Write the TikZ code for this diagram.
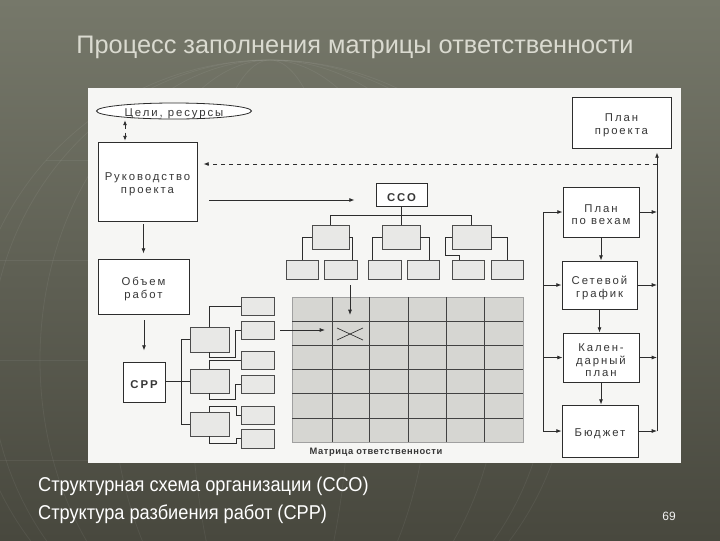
\documentclass[tikz,border=0pt]{standalone}
\usepackage{fontspec}
\setmainfont{Liberation Sans}
\newfontfamily\dfont[LetterSpace=17]{Liberation Sans}
\newfontfamily\lfont[LetterSpace=6]{Liberation Sans}
\usetikzlibrary{shapes.geometric,arrows.meta,fit,calc}
\newcommand\pxu[1]{#1*0.75pt}
\definecolor{bgtop}{RGB}{118,120,106}
\definecolor{bgbot}{RGB}{72,72,62}
\definecolor{lnc}{RGB}{45,45,45}
\definecolor{txc}{RGB}{55,55,55}
\definecolor{boxg}{RGB}{232,232,230}
\definecolor{matg}{RGB}{214,214,210}
\definecolor{titc}{RGB}{218,218,208}
\definecolor{panel}{RGB}{246,246,244}
\tikzset{
  bx/.style={draw=lnc, line width=0.6pt, fill=white, inner sep=0pt},
  txt/.style={inner sep=0pt, text=txc, align=center, yshift=-2pt, font={\dfont\fontsize{8.5}{9.5}\selectfont}},
  btxt/.style={txt, font={\dfont\fontsize{8.5}{9.5}\selectfont\bfseries}},
  tx/.style={label={[txt]center:{#1}}},
  btx/.style={label={[btxt]center:{#1}}},
  gbx/.style={draw=lnc!85, line width=0.6pt, fill=boxg, inner sep=0pt},
  ln/.style={draw=lnc, line width=0.6pt},
  arr/.style={ln, -{Latex[length=4pt,width=3pt]}},
  grid/.style={draw=lnc!90, line width=0.55pt},
  globe/.style={draw=white, opacity=0.06, line width=0.6pt},
}
\begin{document}
\begin{tikzpicture}[x=0.75pt,y=-0.75pt]
\useasboundingbox (0,0) rectangle (720,540);
% background
\shade[top color=bgtop, bottom color=bgbot] (0,0) rectangle (720,540);
\begin{scope}
  \clip (0,0) rectangle (720,540);
  \draw[globe] (270,360) circle (300);
  \foreach \r in {80,160,230,280} { \draw[globe] (270,360) ellipse ({\r} and 300); }
  \foreach \yy in {-2,-1,0,1,2} { \draw[globe] ($(270,360)+({-100*sqrt(9-\yy*\yy)},{100*\yy})$) -- ($(270,360)+({100*sqrt(9-\yy*\yy)},{100*\yy})$); }
\end{scope}
% title
\node[font=\fontsize{19}{22}\selectfont, text=titc, inner sep=0] (title) at (355,47) {Процесс заполнения матрицы ответственности};
% panel
\node[draw=none, fill=panel, inner sep=0, fit={(88,88)(681,463)}] (panel) {};

% left column
\node[bx, ellipse, minimum width=\pxu{155}, minimum height=\pxu{16}, tx={Цели, ресурсы}] (goals) at (174,111) {};
\node[bx, fit={(98,142)(197,221)}, tx={Руководство\\проекта}] (ruk) {};
\node[bx, fit={(98,259)(189,314)}, tx={Объем\\работ}] (obj) {};
\node[bx, fit={(123,362)(165,402)}, btx={СРР}] (srp) {};

\coordinate (gx) at (125,0);
\draw[ln, dashed, {Latex[length=3.5pt,width=3pt]}-{Latex[length=3.5pt,width=3pt]}, shorten <=\pxu{1}, shorten >=\pxu{1}] (goals.south -| gx) -- (ruk.north -| gx);
\draw[arr, shorten <=\pxu{3}, shorten >=\pxu{5}] (ruk.south -| obj.north) -- (obj.north);
\draw[arr, shorten <=\pxu{6}, shorten >=\pxu{11}] (obj.south -| srp.north) -- (srp.north);

% right column
\node[bx, fit={(572,97)(671,148)}, tx={План\\проекта}] (plan) {};
\node[bx, fit={(563,187)(639,237)}, tx={План\\по вехам}] (veh) {};
\node[bx, fit={(562,261)(637,309)}, tx={Сетевой\\график}] (set) {};
\node[bx, fit={(563,333)(639,382)}, tx={Кален-\\дарный\\план}] (kal) {};
\node[bx, fit={(562,405)(638,457)}, tx={Бюджет}] (bud) {};

\coordinate (lb) at (543,0);
\coordinate (rb) at (657,0);
\coordinate (dy) at (0,164);
\draw[ln] (lb |- veh.west) -- (lb |- bud.west);
\foreach \b in {veh,set,kal,bud} {
  \draw[arr] (lb |- \b.west) -- (\b.west);
  \draw[arr] (\b.east) -- (rb |- \b.east);
}
\draw[arr, shorten >=\pxu{4}] (rb |- bud.east) -- (rb |- plan.south);
\draw[arr] (veh.south) -- (veh.south |- set.north);
\draw[arr] (set.south) -- (set.south |- kal.north);
\draw[arr] (kal.south) -- (kal.south |- bud.north);
\draw[ln, dashed, -{Latex[length=4pt,width=3pt]}, shorten >=\pxu{6}] (rb |- dy) -- (ruk.east |- dy);

% CCO tree
\node[bx, fit={(376,183)(427,206)}, btx={ССО}] (cco) {};
\coordinate (ry) at (0,200);
\draw[arr, shorten <=\pxu{12}, shorten >=\pxu{21}] (ruk.east |- ry) -- (cco.west |- ry);

\node[gbx, fit={(312,225)(349,249)}] (c1) {};
\node[gbx, fit={(382,225)(420,249)}] (c2) {};
\node[gbx, fit={(452,225)(491,249)}] (c3) {};
\foreach \n/\a/\b in {d1/286/318, d2/324/357, d3/368/401, d4/407/439, d5/452/484, d6/491/523}
  \node[gbx, fit={(\a,260)(\b,279)}] (\n) {};
\coordinate (hy) at (0,215);
\draw[ln] (cco.south) -- (cco.south |- hy);
\draw[ln] (c1.north |- hy) -- (c3.north |- hy);
\foreach \c in {c1,c2,c3} \draw[ln] (\c.north |- hy) -- (\c.north);
\draw[ln] (c1.west) -| (d1.north);
\draw[ln] (c1.east) -| ([xshift=\pxu{12}]d2.north);
\draw[ln] (c2.west) -| ([xshift=\pxu{-12}]d3.north);
\draw[ln] (c2.east) -| ([xshift=\pxu{6}]d4.north);
\draw[ln] (c3.west) -- ++(-6,0) -- ++(0,18) -| ([xshift=\pxu{-9}]d5.north);
\draw[ln] (c3.east) -| (d6.north);

% SRP tree
\node[gbx, fit={(190,327)(229,352)}] (s1) {};
\node[gbx, fit={(190,369)(229,393)}] (s2) {};
\node[gbx, fit={(190,412)(229,436)}] (s3) {};
\foreach \n/\a/\b in {t1/297/315, t2/321/339, t3/351/369, t4/375/393, t5/406/424, t6/429/448}
  \node[gbx, fit={(241,\a)(274,\b)}] (\n) {};
\coordinate (sx) at (181,0);
\draw[ln] (s1.west) -- (sx |- s1.west) -- (sx |- s3.west) -- (s3.west);
\draw[ln] (sx |- s2.west) -- (s2.west);
\draw[ln] (srp.east |- s2.west) -- (sx |- s2.west);
\draw[ln] (s1.north) |- (t1.west);
\draw[ln] (s1.south) -- ++(0,5) -- ++(26,0) |- (t2.west);
\draw[ln] (s2.north) |- (t3.west);
\draw[ln] (s2.south) -- ++(0,6) -- ++(26,0) |- (t4.west);
\draw[ln] (s3.north) -- ++(0,-5) -- ++(27,0) |- (t5.west);
\draw[ln] (s3.south) -- ++(0,7) -- ++(27,0) |- (t6.west);

% matrix
\node[fill=matg, draw=lnc!45, line width=0.5pt, inner sep=0, fit={(292,297)(523,442)}] (mat) {};
\foreach \xx in {332,369,408,446,484} \draw[grid] (\xx,297) -- (\xx,442);
\foreach \yy in {321,345,369,393,418} \draw[grid] (292,\yy) -- (523,\yy);
\draw[ln, line width=0.5pt] (337,328) -- (363,340);
\draw[ln, line width=0.5pt] (337,340) -- (363,328);
\coordinate (mx) at (376,0);
\node[font={\lfont\fontsize{7}{8}\selectfont\bfseries}, text=txc, inner sep=0, anchor=north, yshift=\pxu{-5}] (matlab) at (mat.south -| mx) {Матрица ответственности};

% arrows into matrix
\coordinate (vx) at (350,0);
\coordinate (vt) at (0,315);
\draw[arr, shorten <=\pxu{6}] (vx |- d2.south) -- (vx |- vt);
\coordinate (hx) at (325,0);
\draw[arr, shorten <=\pxu{6}] (t2.east) -- (hx |- t2.east);

% bottom text
\node[anchor=west, inner sep=0, text=white, font=\fontsize{15}{17}\selectfont, xscale=0.91] (l1) at (38,486) {Структурная схема организации (ССО)};
\node[anchor=west, inner sep=0, text=white, font=\fontsize{15}{17}\selectfont, xscale=0.91] (l2) at (38,514) {Структура разбиения работ (СРР)};
\node[inner sep=0, text=white!90!gray, font=\fontsize{9}{10}\selectfont] (pg) at (669,516) {69};
\end{tikzpicture}
\end{document}
